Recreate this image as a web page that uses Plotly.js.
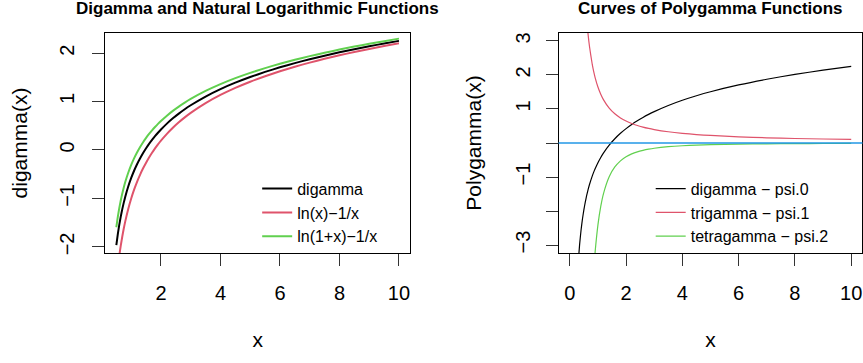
<!DOCTYPE html>
<html>
<head>
<meta charset="utf-8">
<script src="https://cdn.plot.ly/plotly-3.0.1.min.js"></script>
<style>
  html, body { margin: 0; padding: 0; background: #ffffff; }
  #chart { width: 863px; height: 363px; }
</style>
</head>
<body>
<div id="chart"></div>
<script>
// ---------- Left panel data: digamma vs. log approximations ----------
const xLeft = [0.5, 0.55, 0.6, 0.65, 0.7, 0.75, 0.8, 0.9, 1.0, 1.1, 1.2, 1.3, 1.4, 1.5, 1.6, 1.7, 1.8, 1.9, 2.0,
               2.2, 2.4, 2.6, 2.8, 3.0, 3.5, 4.0, 4.5, 5.0, 5.5, 6.0, 6.5, 7.0, 7.5, 8.0, 8.5, 9.0, 9.5, 10.0];
const digammaLeft = [-1.96351, -1.73596, -1.54062, -1.37035, -1.22002, -1.08586, -0.96501, -0.75493, -0.57722, -0.42375,
                     -0.28904, -0.16919, -0.06138, 0.03649, 0.12605, 0.20855, 0.28499, 0.35618, 0.42278,
                     0.54429, 0.65290, 0.75105, 0.84055, 0.92278, 1.10316, 1.25612, 1.38887, 1.50612, 1.61109,
                     1.70612, 1.79291, 1.87279, 1.94676, 2.01564, 2.08009, 2.14064, 2.19774, 2.25175];
const lnMinusInv = [-2.69315, -2.41602, -2.17749, -1.96925, -1.78525, -1.62102, -1.47314, -1.21647, -1.00000, -0.81378,
                    -0.65101, -0.50687, -0.37781, -0.26120, -0.15500, -0.05761, 0.03223, 0.11554, 0.19315,
                    0.33391, 0.45880, 0.57090, 0.67248, 0.76528, 0.96705, 1.13629, 1.28186, 1.40944, 1.52293,
                    1.62509, 1.71796, 1.80305, 1.88157, 1.95444, 2.02242, 2.08611, 2.14603, 2.20259];
const ln1pMinusInv = [-1.59454, -1.37993, -1.19666, -1.03769, -0.89794, -0.77372, -0.66221, -0.46926, -0.30685, -0.16715,
                      -0.04488, 0.06368, 0.16118, 0.24962, 0.33051, 0.40502, 0.47406, 0.53840, 0.59861,
                      0.70861, 0.80711, 0.89632, 0.97786, 1.05296, 1.21836, 1.35944, 1.48253, 1.59176, 1.68998,
                      1.77924, 1.86106, 1.93659, 2.00673, 2.07223, 2.13365, 2.19147, 2.24611, 2.29790];
const leftNames = ["digamma", "ln(x)\u22121/x", "ln(1+x)\u22121/x"];

// ---------- Right panel data: polygamma curves ----------
const xRight = [0.3, 0.35, 0.4, 0.45, 0.5, 0.55, 0.6, 0.65, 0.7, 0.8, 0.85, 0.9, 1.0, 1.1, 1.2, 1.4, 1.6, 1.8, 2.0,
                2.2, 2.4, 2.6, 2.8, 3.0, 3.5, 4.0, 4.5, 5.0, 6.0, 7.0, 8.0, 9.0, 10.0];
const psi0 = [-3.50252, -2.97107, -2.56138, -2.23354, -1.96351, -1.73596, -1.54062, -1.37035, -1.22002, -0.96501,
              -0.85527, -0.75493, -0.57722, -0.42375, -0.28904, -0.06138, 0.12605, 0.28499, 0.42278,
              0.54429, 0.65290, 0.75105, 0.84055, 0.92278, 1.10316, 1.25612, 1.38887, 1.50612, 1.70612,
              1.87279, 2.01564, 2.14064, 2.25175];
const psi1 = [null, null, null, null, null, null, 3.63621, 3.19145, 2.83405, 2.29947,
              2.09574, 1.92254, 1.64493, 1.43330, 1.26738, 1.02536, 0.85843, 0.73697, 0.64493,
              0.57293, 0.51515, 0.46781, 0.42833, 0.39493, 0.33036, 0.28382, 0.24873, 0.22132, 0.18132,
              0.15355, 0.13314, 0.11751, 0.10517];
const psi2 = [null, null, null, null, null, null, null, null, null, -4.43012,
              -3.74615, -3.20180, -2.40411, -1.86146, -1.47804, -0.98913, -0.70357, -0.52387, -0.40411,
              -0.32063, -0.26027, -0.21529, -0.18093, -0.15411, -0.10821, -0.08004, -0.06156, -0.04879, -0.03279,
              -0.02353, -0.01770, -0.01379, -0.01105];
const rightNames = ["digamma \u2212 psi.0", "trigamma \u2212 psi.1", "tetragamma \u2212 psi.2"];
const refLineY = [0];

// ---------- Axis tick labels ----------
const leftXTicks = [2, 4, 6, 8, 10];
const leftYTicks = [-2, -1, 0, 1, 2];
const rightXTicks = [0, 2, 4, 6, 8, 10];
const rightYTicks = [-3, -2, -1, 0, 1, 2, 3];
const rightYTickText = ["\u22123", "", "\u22121", "", "1", "2", "3"];

const seriesColors = ["#000000", "#DF536B", "#61D04F"];
const refColor = "#2297E6";
const FONT = "Liberation Sans, Arial, Helvetica, sans-serif";

const traces = [
  {x: xLeft, y: digammaLeft, name: leftNames[0], xaxis: "x", yaxis: "y", legend: "legend"},
  {x: xLeft, y: lnMinusInv, name: leftNames[1], xaxis: "x", yaxis: "y", legend: "legend"},
  {x: xLeft, y: ln1pMinusInv, name: leftNames[2], xaxis: "x", yaxis: "y", legend: "legend"},
  {x: xRight, y: psi0, name: rightNames[0], xaxis: "x2", yaxis: "y2", legend: "legend2"},
  {x: xRight, y: psi1, name: rightNames[1], xaxis: "x2", yaxis: "y2", legend: "legend2"},
  {x: xRight, y: psi2, name: rightNames[2], xaxis: "x2", yaxis: "y2", legend: "legend2"}
].map((t, i) => Object.assign(t, {
  type: "scatter", mode: "lines", connectgaps: false,
  line: {color: seriesColors[i % 3], width: i < 3 ? 2 : 1.2, shape: "spline", smoothing: 0.5},
  hoverinfo: "skip"
}));

const axisCommon = {
  showgrid: false, zeroline: false, showline: true, mirror: true,
  linecolor: "#000000", linewidth: 1, ticks: "outside", ticklen: 12, tickwidth: 1,
  tickcolor: "#333333", automargin: false,
  tickfont: {family: FONT, size: 20, color: "#000000"},
  title: {font: {family: FONT, size: 21, color: "#000000"}}
};

const yDomain = [0.3022, 0.9099];

const legendCommon = {
  xanchor: "left", yanchor: "top",
  bgcolor: "rgba(0,0,0,0)", borderwidth: 0,
  font: {family: FONT, size: 16, color: "#000000"}, tracegroupgap: 0
};

const layout = {
  width: 863, height: 363,
  margin: {l: 0, r: 0, t: 0, b: 0, pad: 0},
  paper_bgcolor: "#ffffff", plot_bgcolor: "#ffffff",
  showlegend: true,
  xaxis: Object.assign({}, axisCommon, {
    domain: [0.1217, 0.4754], range: [0.12, 10.38],
    tickvals: leftXTicks, ticklabelstandoff: 10,
    title: {text: "x", font: axisCommon.title.font, standoff: 28}
  }),
  yaxis: Object.assign({}, axisCommon, {
    domain: yDomain, range: [-2.13212, 2.42036],
    tickvals: leftYTicks, tickangle: -90, ticklabelstandoff: 10,
    title: {text: "digamma(x)", font: axisCommon.title.font, standoff: 22}
  }),
  xaxis2: Object.assign({}, axisCommon, {
    domain: [0.6472, 0.9994], range: [-0.4, 10.4], anchor: "y2",
    tickvals: rightXTicks, ticklabelstandoff: 10,
    title: {text: "x", font: axisCommon.title.font, standoff: 28}
  }),
  yaxis2: Object.assign({}, axisCommon, {
    domain: yDomain, range: [-3.24, 3.24], anchor: "x2",
    tickvals: rightYTicks, ticktext: rightYTickText, tickangle: -90, ticklabelstandoff: 8,
    title: {text: "Polygamma(x)", font: axisCommon.title.font, standoff: 24}
  }),
  legend: Object.assign({}, legendCommon, {x: 0.298, y: 0.527}),
  legend2: Object.assign({}, legendCommon, {x: 0.754, y: 0.527}),
  shapes: refLineY.map(v => ({
    type: "line", xref: "x2 domain", yref: "y2", x0: 0, x1: 1, y0: v, y1: v,
    line: {color: refColor, width: 1.5}, layer: "above"
  })),
  annotations: [
    {text: "<b>Digamma and Natural Logarithmic Functions</b>", xref: "x domain", yref: "paper",
     x: 0.5, y: 1 - 8 / 363, xanchor: "center", yanchor: "middle", showarrow: false,
     font: {family: FONT, size: 17, color: "#000000"}},
    {text: "<b>Curves of Polygamma Functions</b>", xref: "x2 domain", yref: "paper",
     x: 0.5, y: 1 - 8 / 363, xanchor: "center", yanchor: "middle", showarrow: false,
     font: {family: FONT, size: 17, color: "#000000"}}
  ]
};

Plotly.newPlot("chart", traces, layout, {displayModeBar: false, staticPlot: true});
</script>
</body>
</html>
